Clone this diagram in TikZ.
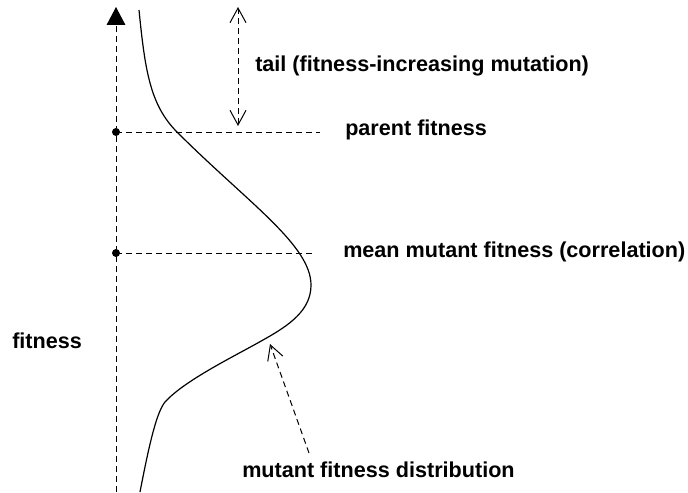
\documentclass[tikz,border=0pt]{standalone}
\usepackage{fontspec}
\setmainfont{Liberation Sans}
\usepackage{tikz}
\usetikzlibrary{arrows.meta, positioning, calc}
\definecolor{inkblack}{RGB}{0,0,0}
\tikzset{
  label/.style={
    anchor=base west, inner sep=0pt, font=\fontsize{16.2pt}{19pt}\selectfont\bfseries,
    text=inkblack
  },
  axisline/.style={-{Triangle[length=13.5pt, width=14pt]}, dashed, line width=0.75pt,
    dash pattern=on 4.5pt off 3pt, color=inkblack},
  guideline/.style={dashed, line width=0.75pt, dash pattern=on 4.5pt off 3pt, color=inkblack},
  curveline/.style={line width=0.9pt, color=inkblack},
  openarrow/.style={-{Straight Barb[length=11pt, width=12pt]}, line width=0.75pt,
    dash pattern=on 4.5pt off 3pt, color=inkblack},
  dblarrow/.style={{Straight Barb[length=11pt, width=12pt]}-{Straight Barb[length=11pt, width=12pt]},
    line width=0.75pt, dash pattern=on 4.5pt off 3pt, color=inkblack},
  dot/.style={circle, fill=inkblack, minimum size=6pt, inner sep=0pt}
}
\begin{document}
\begin{tikzpicture}[x=0.75pt, y=-0.75pt]
  \useasboundingbox (0,0) rectangle (688,492);

  % fitness axis
  \coordinate (axbot) at (116,492);
  \coordinate (axtop) at (116,7);
  \draw[axisline] (axbot) -- (axtop);

  % parent and mean levels
  \node[dot] (parent) at (116,132) {};
  \node[dot] (mean)   at (116,253) {};
  \coordinate (parentend) at (320,132);
  \coordinate (meanend)   at (316,253);
  \draw[guideline] (parent.center) -- (parentend);
  \draw[guideline] (mean.center) -- (meanend);

  % mutant fitness distribution
  \draw[curveline] (139,10) .. controls (145,70) and (150,105) .. (177,132)
    .. controls (247,202) and (311,245) .. (311,285)
    .. controls (311,310) and (290,325) .. (263,340)
    .. controls (235,356) and (185,380) .. (165,402)
    .. controls (157,412) and (150,440) .. (140,492);

  % tail arrow
  \coordinate (tailtop) at (238,7);
  \coordinate (tailbot) at (238,126);
  \draw[dblarrow] (tailbot) -- (tailtop);

  % labels
  \node[label] (taillbl)   at (255,72)  {tail (fitness-increasing mutation)};
  \node[label] (parentlbl) at (345,135) {parent fitness};
  \node[label] (meanlbl)   at (343,257) {mean mutant fitness (correlation)};
  \node[label] (fitlbl)    at (12,348)  {fitness};
  \node[label] (distlbl)   at (242,477) {mutant fitness distribution};

  \coordinate (distfrom) at (309,453);
  \coordinate (distto)   at (270,344);
  \draw[openarrow] (distfrom) -- (distto);
\end{tikzpicture}
\end{document}
